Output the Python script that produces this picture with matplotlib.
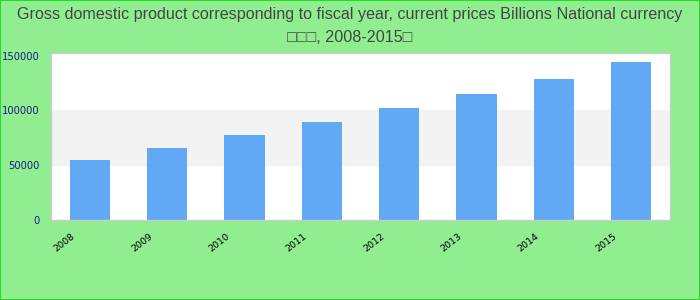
import matplotlib
matplotlib.use("Agg")
import matplotlib.pyplot as plt
from matplotlib.patches import Rectangle
from matplotlib.transforms import ScaledTranslation

# values
years = ["2008", "2009", "2010", "2011", "2012", "2013", "2014", "2015"]
gdp = [54700, 65500, 77300, 89000, 101700, 115200, 128800, 144100]
y_ticks = [0, 50000, 100000, 150000]

title = ("Gross domestic product corresponding to fiscal year, current prices Billions National currency\n"
         "\u25a1\u25a1\u25a1, 2008-2015\u25a1")

fig = plt.figure(figsize=(7, 3), dpi=100, facecolor="#90ee90")
# green frame round the whole picture
fig.patches.append(Rectangle((0, 0), 1, 1, transform=fig.transFigure, fill=False,
                             edgecolor="#22dd22", linewidth=1.5))

ax = fig.add_axes([0.073, 0.268, 0.884, 0.554])
ax.set_facecolor("white")

# alternating grey band between 50000 and 100000
ax.axhspan(50000, 100000, color="#f3f3f3", zorder=0)

x = range(len(years))
ax.bar(x, gdp, width=0.52, color="#61a9f5", zorder=2)

ax.set_xlim(-0.5, len(years) - 0.5)
ax.set_ylim(0, 152000)
ax.set_yticks(y_ticks)
ax.set_yticklabels([str(v) for v in y_ticks], color="#1a1a8c", fontsize=7.2,
                   family="DejaVu Sans")
ax.set_xticks(list(x))
ax.set_xticklabels(years, rotation=38, ha="right", fontsize=6.8,
                   family="DejaVu Sans")
ax.tick_params(axis="both", length=0)
ax.tick_params(axis="y", pad=8)
ax.tick_params(axis="x", pad=9)
shift = ScaledTranslation(-0.13, 0, fig.dpi_scale_trans)
for lab in ax.get_xticklabels():
    lab.set_transform(lab.get_transform() + shift)

for s in ax.spines.values():
    s.set_color("#cccccc")
    s.set_linewidth(1)

fig.text(0.5, 0.975, title, ha="center", va="top", fontsize=11.6,
         color="#444444", family=["Liberation Sans", "DejaVu Sans"],
         linespacing=1.62)

fig.savefig("out.png", dpi=100, facecolor=fig.get_facecolor())
